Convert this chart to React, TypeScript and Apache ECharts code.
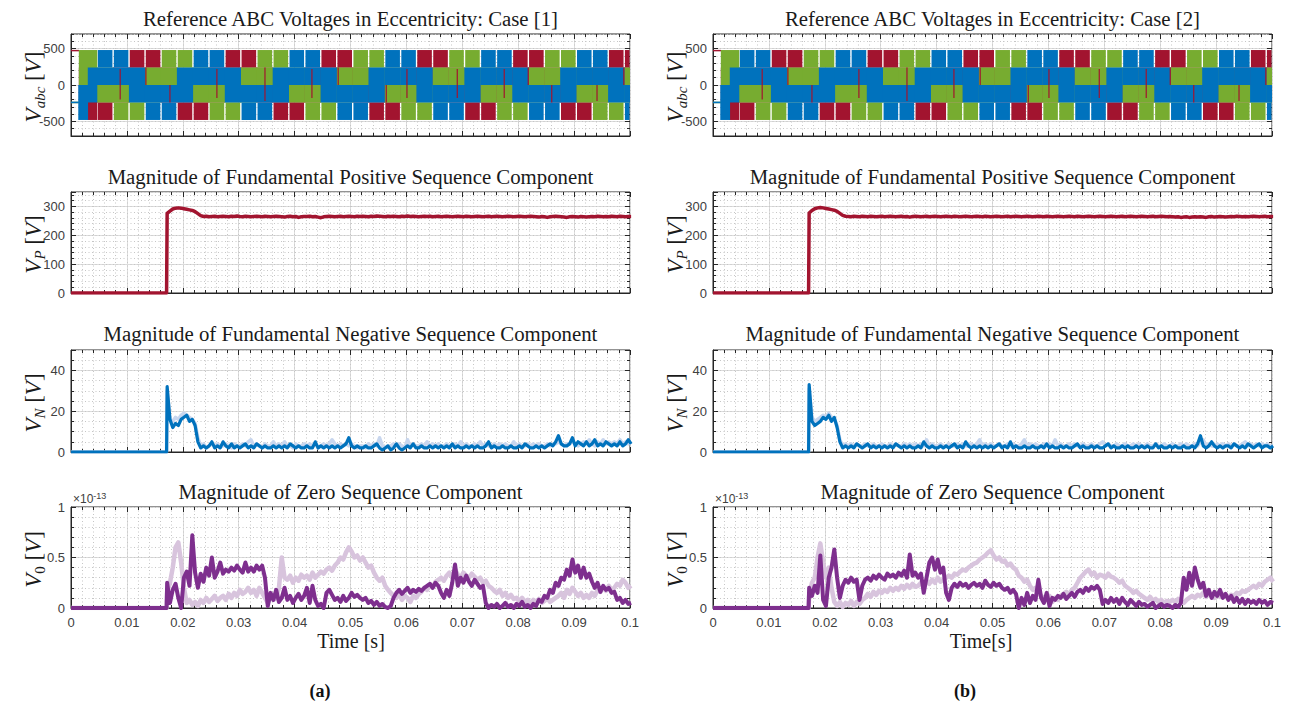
import React, { useEffect, useRef } from "react";
import * as echarts from "echarts";

// ---------------- data ----------------
// time is kept in milliseconds; axis labels are shown in seconds
const stepMs = 17.1; // instant where the estimators start
const sampleStartMs = 17.2;
const sampleStepMs = 0.5;

// Magnitude of fundamental positive sequence component [V]
const vpA = [
  276, 284, 291, 294, 295, 294, 292, 290, 288, 286,
  282, 275, 268, 265, 266, 264, 265, 266, 264, 265,
  266, 265, 264, 266, 265, 267, 265, 264, 266, 265,
  264, 265, 266, 265, 264, 266, 265, 264, 265, 266,
  265, 264, 263, 265, 266, 264, 265, 262, 264, 265,
  265, 266, 264, 265, 263, 261, 264, 265, 266, 265,
  264, 265, 266, 264, 265, 266, 265, 264, 266, 265,
  266, 265, 264, 266, 265, 267, 266, 265, 264, 266,
  265, 266, 265, 264, 266, 265, 267, 265, 266, 265,
  264, 265, 266, 265, 266, 264, 265, 266, 264, 265,
  266, 265, 264, 265, 266, 265, 264, 266, 265, 264,
  265, 266, 265, 264, 265, 266, 264, 265, 266, 265,
  264, 265, 266, 265, 264, 265, 266, 265, 264, 265,
  266, 265, 264, 263, 265, 264, 262, 264, 265, 266,
  265, 264, 263, 262, 264, 265, 264, 263, 265, 264,
  263, 264, 265, 264, 266, 265, 264, 265, 264, 266,
  265, 264, 266, 265, 264, 265, 265,
];
const vpB = [
  277, 286, 292, 295, 296, 295, 293, 291, 289, 287,
  283, 276, 269, 266, 265, 264, 266, 265, 264, 266,
  265, 264, 266, 265, 264, 265, 266, 264, 265, 266,
  265, 264, 265, 266, 264, 265, 263, 265, 266, 265,
  264, 265, 266, 264, 265, 266, 265, 264, 265, 266,
  265, 264, 266, 265, 264, 265, 266, 265, 264, 265,
  266, 265, 264, 266, 265, 264, 265, 266, 265, 264,
  265, 266, 264, 265, 266, 265, 264, 265, 266, 265,
  264, 265, 266, 265, 264, 266, 265, 264, 265, 266,
  265, 264, 265, 266, 265, 264, 266, 265, 264, 265,
  266, 265, 264, 265, 266, 265, 264, 265, 266, 265,
  264, 265, 266, 264, 265, 266, 265, 264, 265, 266,
  265, 264, 265, 266, 264, 265, 266, 265, 264, 265,
  264, 263, 264, 262, 263, 264, 262, 263, 264, 263,
  264, 263, 262, 264, 265, 263, 264, 265, 264, 263,
  264, 265, 264, 266, 265, 264, 265, 264, 265, 266,
  265, 264, 265, 266, 264, 265, 265,
];

// Magnitude of fundamental negative sequence component [V]
const vnA = [
  32, 16, 12, 14, 13, 16, 17, 18, 15, 16,
  13, 5, 2, 3, 2, 3, 5, 2, 3, 2,
  5, 3, 2, 4, 2, 3, 2, 3, 4, 2,
  3, 2, 4, 3, 2, 3, 2, 2, 3, 2,
  3, 2, 3, 2, 4, 3, 2, 3, 2, 2,
  3, 2, 2, 5, 2, 3, 2, 3, 2, 3,
  2, 3, 2, 3, 4, 7, 3, 2, 3, 2,
  2, 3, 2, 2, 3, 4, 2, 1, 2, 3,
  1, 2, 4, 2, 1, 2, 3, 2, 4, 2,
  2, 3, 2, 2, 3, 2, 3, 2, 3, 2,
  3, 2, 4, 2, 3, 2, 2, 3, 2, 3,
  2, 3, 2, 2, 3, 5, 2, 3, 2, 2,
  3, 2, 2, 3, 2, 2, 3, 2, 4, 3,
  2, 2, 3, 2, 3, 2, 3, 4, 3, 5,
  8, 4, 3, 3, 4, 7, 3, 5, 4, 3,
  5, 3, 4, 6, 3, 4, 3, 5, 4, 3,
  4, 3, 5, 3, 4, 6, 4,
];
const vnAref = [
  30, 16, 15, 17, 16, 18, 19, 18, 17, 16,
  14, 7, 3, 4, 2, 3, 4, 3, 4, 3,
  3, 4, 3, 2, 4, 3, 3, 4, 3, 5,
  6, 3, 4, 3, 2, 4, 3, 3, 5, 3,
  4, 3, 5, 3, 3, 2, 4, 3, 3, 4,
  3, 4, 3, 4, 2, 3, 4, 3, 4, 6,
  4, 3, 4, 3, 4, 3, 4, 3, 2, 3,
  3, 2, 4, 3, 4, 3, 7, 3, 2, 3,
  3, 4, 3, 4, 3, 2, 6, 3, 4, 3,
  3, 4, 3, 5, 3, 4, 3, 4, 3, 3,
  4, 3, 3, 4, 3, 5, 3, 4, 3, 3,
  4, 3, 5, 3, 4, 3, 3, 4, 3, 4,
  3, 4, 3, 3, 5, 3, 4, 3, 3, 4,
  3, 4, 3, 4, 3, 3, 4, 3, 4, 4,
  5, 4, 3, 4, 4, 5, 4, 3, 4, 5,
  4, 6, 4, 3, 5, 4, 6, 4, 5, 4,
  5, 4, 6, 4, 5, 4, 5,
];
const vnB = [
  33, 15, 13, 14, 15, 17, 16, 18, 15, 17,
  12, 5, 2, 3, 2, 3, 2, 4, 3, 2,
  3, 4, 2, 3, 2, 3, 2, 3, 2, 3,
  2, 4, 3, 2, 3, 2, 3, 2, 2, 3,
  2, 5, 3, 2, 3, 2, 2, 3, 2, 3,
  2, 3, 4, 2, 3, 2, 5, 3, 2, 3,
  2, 3, 2, 3, 2, 3, 2, 3, 4, 2,
  3, 2, 5, 2, 3, 2, 2, 3, 2, 2,
  3, 2, 2, 3, 2, 4, 2, 3, 2, 2,
  3, 2, 3, 2, 2, 3, 4, 2, 3, 2,
  2, 3, 2, 3, 2, 2, 3, 4, 2, 3,
  2, 2, 3, 2, 3, 2, 2, 3, 2, 3,
  2, 3, 2, 2, 4, 2, 3, 2, 2, 3,
  2, 3, 2, 2, 3, 2, 2, 3, 2, 4,
  8, 3, 2, 3, 5, 3, 2, 3, 2, 3,
  3, 2, 4, 3, 2, 3, 2, 4, 3, 2,
  3, 4, 2, 3, 3, 2, 3,
];
const vnBref = [
  31, 17, 15, 16, 17, 18, 17, 19, 17, 16,
  13, 6, 3, 4, 3, 4, 3, 4, 3, 3,
  4, 3, 3, 4, 3, 3, 4, 3, 3, 4,
  3, 4, 3, 3, 4, 3, 4, 3, 4, 3,
  4, 3, 6, 3, 4, 3, 3, 4, 3, 3,
  4, 3, 3, 4, 3, 4, 3, 3, 4, 3,
  4, 6, 3, 4, 3, 4, 3, 3, 4, 3,
  3, 4, 3, 4, 3, 3, 4, 6, 3, 4,
  3, 4, 3, 3, 4, 3, 4, 3, 6, 3,
  4, 3, 3, 4, 3, 4, 3, 3, 4, 3,
  3, 4, 3, 3, 4, 5, 3, 4, 3, 3,
  4, 3, 3, 4, 3, 3, 4, 3, 4, 3,
  3, 4, 3, 3, 4, 3, 3, 4, 3, 3,
  4, 3, 3, 4, 3, 4, 3, 3, 4, 3,
  5, 6, 3, 4, 3, 3, 4, 3, 4, 3,
  4, 3, 4, 3, 3, 4, 5, 3, 4, 3,
  4, 3, 4, 3, 4, 3, 3,
];

// Magnitude of zero sequence component [x1e-13 V]
const v0A = [
  .25, .05, .18, .24, .1, 0, .3, .36, .22, .72,
  .35, .2, .34, .26, .4, .32, .5, .3, .36, .45,
  .34, .38, .36, .4, .37, .42, .38, .35, .45, .36,
  .4, .36, .42, .38, .42, .3, .02, .15, .08, .18,
  .06, .1, .2, .08, .12, .05, .1, .14, .08, .12,
  .2, .05, .22, .08, .02, .04, 0, .15, .18, .13,
  .08, .1, .06, .12, .07, .1, .15, .11, .13, .1,
  .08, .1, .05, .07, .03, .06, .02, .04, .01, 0,
  .02, .1, .15, .18, .14, .17, .2, .15, .18, .16,
  .19, .17, .2, .22, .24, .2, .25, .22, .15, .1,
  .18, .12, .25, .43, .22, .3, .25, .32, .26, .22,
  .28, .24, .2, .22, .05, 0, .03, .01, .04, 0,
  .02, .05, .01, .03, 0, .04, .02, .06, .01, .03,
  0, .04, .02, .08, .06, .12, .1, .18, .15, .25,
  .22, .3, .28, .38, .32, .48, .35, .42, .3, .4,
  .3, .34, .26, .2, .25, .16, .22, .18, .2, .15,
  .16, .08, .1, .05, .08, .04, .05,
];
const v0Aref = [
  .15, .25, .4, .6, .65, .45, .2, .05, .08, .03,
  .06, .02, .08, .05, .1, .06, .09, .12, .07, .1,
  .12, .08, .14, .1, .15, .12, .18, .14, .16, .2,
  .15, .18, .12, .2, .15, .1, .05, .12, .08, .1,
  .2, .5, .3, .28, .32, .25, .3, .27, .33, .3,
  .32, .28, .35, .3, .33, .36, .34, .38, .4, .37,
  .42, .45, .5, .48, .55, .6, .56, .5, .52, .47,
  .5, .45, .4, .42, .35, .3, .27, .3, .22, .18,
  .15, .12, .1, .14, .08, .12, .1, .06, .12, .1,
  .14, .16, .2, .18, .22, .2, .26, .28, .3, .27,
  .32, .35, .3, .38, .33, .3, .35, .32, .3, .34,
  .31, .28, .3, .25, .27, .22, .2, .17, .15, .18,
  .12, .15, .1, .13, .09, .1, .07, .1, .06, .08,
  .05, .08, .06, .09, .05, .07, .1, .06, .08, .1,
  .12, .15, .1, .18, .14, .2, .16, .12, .15, .1,
  .13, .1, .15, .12, .18, .16, .2, .17, .22, .18,
  .2, .24, .22, .28, .25, .2, .22,
];
const v0B = [
  .2, .12, .22, .15, .52, .08, .02, .3, .4, .58,
  .3, .1, .22, .28, .25, .3, .26, .28, .08, .22,
  .28, .3, .27, .32, .29, .33, .3, .28, .34, .31,
  .33, .3, .35, .32, .37, .3, .53, .32, .35, .3,
  .34, .15, .3, .45, .5, .38, .48, .35, .4, .15,
  .08, .2, .24, .21, .25, .22, .24, .2, .23, .25,
  .22, .24, .2, .27, .23, .21, .25, .22, .24, .2,
  .18, .2, .15, .18, .14, 0, .1, .03, .15, .05,
  .12, .08, .28, .1, .05, .15, .02, .1, .08, .12,
  .1, .14, .09, .12, .15, .11, .16, .18, .15, .2,
  .17, .21, .19, .22, .18, .04, .08, .05, .1, .06,
  .09, .04, .1, .06, .03, .08, .05, .02, .06, .03,
  .04, .01, .03, .05, 0, .02, .04, .01, .03, .02,
  0, .03, .01, .05, .3, .18, .35, .22, .4, .28,
  .2, .25, .12, .18, .1, .16, .12, .18, .1, .14,
  .08, .12, .06, .1, .05, .09, .04, .08, .05, .07,
  .04, .08, .05, .07, .03, .06, .05,
];
const v0Bref = [
  .12, .25, .3, .5, .64, .45, .3, .4, .2, .06,
  .02, .06, .01, .05, .03, .07, .02, .06, .04, .08,
  .1, .14, .11, .16, .13, .17, .15, .18, .16, .2,
  .17, .2, .18, .22, .19, .23, .2, .24, .21, .22,
  .25, .22, .27, .24, .28, .25, .3, .26, .28, .3,
  .32, .3, .34, .33, .36, .38, .37, .4, .42, .44,
  .45, .48, .5, .52, .55, .57, .52, .48, .5, .46,
  .47, .42, .44, .4, .38, .32, .3, .26, .28, .22,
  .18, .2, .15, .12, .1, .08, .12, .06, .1, .08,
  .12, .14, .16, .13, .18, .2, .25, .3, .33, .36,
  .38, .33, .35, .3, .33, .32, .3, .34, .31, .3,
  .28, .25, .27, .22, .2, .18, .15, .17, .14, .12,
  .1, .08, .11, .07, .09, .06, .08, .05, .07, .06,
  .08, .06, .09, .07, .05, .08, .1, .12, .1, .13,
  .12, .15, .11, .14, .12, .1, .13, .11, .14, .12,
  .1, .13, .12, .15, .14, .17, .16, .18, .2, .22,
  .2, .24, .22, .26, .28, .3, .26,
];

// Reference ABC voltages: PWM envelope bands per 60-degree sector
const bandLevels = { outer: 480, inner: 240 };
const sectorEdgesMs = [
  4.65, 7.51, 10.36, 13.22, 16.08, 18.94, 21.79, 24.65, 27.51, 30.36, 33.22, 36.08,
  38.94, 41.79, 44.65, 47.51, 50.37, 53.22, 56.08, 58.94, 61.79, 64.65, 67.51, 70.37,
  73.22, 76.08, 78.94, 81.79, 84.65, 87.51, 90.37, 93.22, 96.08, 98.94, 100,
];
// P = positive band, T = transition band, N = negative band
const phaseACodes = "NTPPTNNTPPTNNTPPTNNTPPTNNTPPTNNTPP";
const phaseBCodes = "TNNTPPTNNTPPTNNTPPTNNTPPTNNTPPTNNT";
const phaseCCodes = "PPTNNTPPTNNTPPTNNTPPTNNTPPTNNTPPTN";
// start-up segments [t0, t1, low, high]
const phaseAStart = [[0, 1.4, 462, 482], [1.4, 2.9, -240, 240], [2.9, 4.65, -480, 0]];
const phaseBStart = [[0, 1.4, -250, -230], [1.4, 4.65, 0, 480]];
const phaseCStart = [[0, 1.3, -250, -228], [1.3, 3.0, -480, 0], [3.0, 4.65, -240, 240]];
// narrow phase-A pulses seen through the other phases [t, low, high]
const phaseAPulses = [
  [8.8, -200, 220], [13.4, 0, 240], [17.7, -240, 0], [26.1, -180, 220], [34.7, -220, 240],
  [43.1, -180, 220], [47.8, 0, 240], [56.4, -240, 0], [60.1, -180, 220], [69.1, -180, 220],
  [77.5, -180, 220], [81.8, 0, 240], [86.0, -240, 0], [94.1, -220, 0], [98.9, 0, 240],
];

// ---------------- style ----------------
const RED = "#A2142F";
const GREEN = "#77AC30";
const BLUE = "#0072BD";
const PURPLE = "#7E2F8E";
const LIGHT_BLUE = "#c8d6ee";
const LIGHT_PURPLE = "#d8c4dd";
const AXIS = "#262626";
const LABEL = "#404040";
const MAJOR_GRID = "#dcdcdc";
const MINOR_GRID = "#c6c6c6";
const SANS = "Liberation Sans, Arial, sans-serif";
const SERIF = "Liberation Serif, Times New Roman, serif";

const plotW = 559;
const colLefts = [71, 713];
const rows = [
  { top: 34, h: 102, min: -700, max: 700, majors: [-500, 0, 500], minor: 100 },
  { top: 192, h: 101, min: 0, max: 350, majors: [0, 100, 200, 300], minor: 20 },
  { top: 350, h: 102, min: 0, max: 50, majors: [0, 20, 40], minor: 5 },
  { top: 507, h: 101, min: 0, max: 1, majors: [0, 0.5, 1], minor: 0.1 },
];
const titles = [
  ["Reference ABC Voltages in Eccentricity: Case [1]", "Reference ABC Voltages in Eccentricity: Case [2]"],
  ["Magnitude of Fundamental Positive Sequence Component", "Magnitude of Fundamental Positive Sequence Component"],
  ["Magnitude of Fundamental Negative Sequence Component", "Magnitude of Fundamental Negative Sequence Component"],
  ["Magnitude of Zero Sequence Component", "Magnitude of Zero Sequence Component"],
];
const titleYs = [18, 176, 333, 491];
const yNames = [
  "{v|V}{s|abc}{n| [}{v|V}{n|]}",
  "{v|V}{s|P}{n| [}{v|V}{n|]}",
  "{v|V}{s|N}{n| [}{v|V}{n|]}",
  "{v|V}{u|0}{n| [}{v|V}{n|]}",
];

function lineData(values: number[]) {
  const pts: number[][] = [[0, 0], [stepMs, 0]];
  values.forEach((v, i) => pts.push([sampleStartMs + i * sampleStepMs, v]));
  return pts;
}

function phaseSegments(start: number[][], codes: string) {
  const gap = 0.15;
  const { outer, inner } = bandLevels;
  const segs: number[][] = start.map((s) => s.slice());
  for (let k = 0; k < codes.length; k++) {
    const t0 = sectorEdgesMs[k];
    const t1 = sectorEdgesMs[k + 1];
    const c = codes[k];
    if (c === "P") {
      segs.push([t0, t1, 0, inner]);
      segs.push([t0 + gap, t1 - gap, inner, outer]);
    } else if (c === "N") {
      segs.push([t0, t1, -inner, 0]);
      segs.push([t0 + gap, t1 - gap, -outer, -inner]);
    } else {
      segs.push([t0, t1, -inner, inner]);
    }
  }
  return segs;
}

function rectSeries(name: string, data: number[][], color: string, xi: number, yi: number) {
  return {
    name,
    type: "custom",
    xAxisIndex: xi,
    yAxisIndex: yi,
    silent: true,
    data,
    encode: { x: [0, 1], y: [2, 3] },
    renderItem: (params: any, api: any) => {
      const a = api.coord([api.value(0), api.value(3)]);
      const b = api.coord([api.value(1), api.value(2)]);
      const cs = params.coordSys;
      const shape = echarts.graphic.clipRectByRect(
        { x: a[0], y: a[1], width: b[0] - a[0] + 0.3, height: b[1] - a[1] },
        { x: cs.x, y: cs.y, width: cs.width, height: cs.height }
      );
      if (!shape) return null;
      return { type: "rect", shape, style: { fill: color } };
    },
  };
}

function pulseSeries(data: number[][], color: string, xi: number, yi: number) {
  return {
    type: "custom",
    xAxisIndex: xi,
    yAxisIndex: yi,
    silent: true,
    data,
    encode: { x: 0, y: [1, 2] },
    renderItem: (params: any, api: any) => {
      const a = api.coord([api.value(0), api.value(2)]);
      const b = api.coord([api.value(0), api.value(1)]);
      return { type: "rect", shape: { x: a[0] - 0.6, y: a[1], width: 1.2, height: b[1] - a[1] }, style: { fill: color } };
    },
  };
}

function lineSeries(values: number[], color: string, width: number, xi: number, yi: number) {
  return {
    type: "line",
    xAxisIndex: xi,
    yAxisIndex: yi,
    data: lineData(values),
    showSymbol: false,
    symbol: "none",
    silent: true,
    clip: true,
    lineStyle: { color, width, join: "round" },
  };
}

function buildOption() {
  const grid: any[] = [];
  const xAxis: any[] = [];
  const yAxis: any[] = [];
  const series: any[] = [];
  const graphic: any[] = [];

  const lineSets = [
    [null, { light: null, dark: vpA, c: RED }, { light: vnAref, dark: vnA, c: BLUE, lc: LIGHT_BLUE }, { light: v0Aref, dark: v0A, c: PURPLE, lc: LIGHT_PURPLE }],
    [null, { light: null, dark: vpB, c: RED }, { light: vnBref, dark: vnB, c: BLUE, lc: LIGHT_BLUE }, { light: v0Bref, dark: v0B, c: PURPLE, lc: LIGHT_PURPLE }],
  ] as any[];
  const widths = [0, 3.5, 3.2, 4];
  const lightWidths = [0, 0, 3.5, 4.5];

  colLefts.forEach((colLeft, c) => {
    rows.forEach((row, r) => {
      const g = grid.length;
      grid.push({ left: colLeft, top: row.top, width: plotW, height: row.h, show: true, borderColor: AXIS, borderWidth: 1, backgroundColor: "#ffffff" });
      const baseX = { gridIndex: g, type: "value", min: 0, max: 100 };
      const xMain = xAxis.length;
      xAxis.push({
        ...baseX, position: "bottom", interval: 10,
        axisLine: { show: true, onZero: false, lineStyle: { color: AXIS, width: 1 } },
        axisTick: { show: true, inside: true, length: 5, lineStyle: { color: AXIS } },
        axisLabel: {
          show: r === 3, margin: 8, color: LABEL, fontSize: 13, fontFamily: SANS,
          formatter: (v: number) => (v === 0 ? "0" : String(+(v / 1000).toFixed(3))),
        },
        splitLine: { show: true, lineStyle: { color: MAJOR_GRID, width: 1 } },
      });
      xAxis.push({
        ...baseX, position: "bottom", interval: 2,
        axisLine: { show: false, onZero: false }, axisLabel: { show: false },
        axisTick: { show: true, inside: true, length: 3, lineStyle: { color: AXIS } },
        splitLine: { show: true, lineStyle: { color: MINOR_GRID, width: 1, type: [1, 2.5] } },
      });
      xAxis.push({
        ...baseX, position: "top", interval: 10,
        axisLine: { show: false, onZero: false }, axisLabel: { show: false }, splitLine: { show: false },
        axisTick: { show: true, inside: true, length: 5, lineStyle: { color: AXIS } },
      });
      xAxis.push({
        ...baseX, position: "top", interval: 2,
        axisLine: { show: false, onZero: false }, axisLabel: { show: false }, splitLine: { show: false },
        axisTick: { show: true, inside: true, length: 3, lineStyle: { color: AXIS } },
      });

      const baseY = { gridIndex: g, type: "value", min: row.min, max: row.max };
      const custom = r === 0;
      const majorStep = r === 1 ? 100 : r === 2 ? 20 : 0.5;
      const majorSpec: any = custom ? {} : { interval: majorStep };
      const yMain = yAxis.length;
      yAxis.push({
        ...baseY, ...majorSpec, position: "left",
        axisLine: { show: true, onZero: false, lineStyle: { color: AXIS, width: 1 } },
        axisTick: { show: true, inside: true, length: 5, lineStyle: { color: AXIS }, ...(custom ? { customValues: row.majors } : {}) },
        axisLabel: {
          show: true, margin: 6, color: LABEL, fontSize: 13, fontFamily: SANS,
          ...(custom ? { customValues: row.majors } : {}),
          formatter: (v: number) => (row.majors.some((m) => Math.abs(m - v) < 1e-9) ? String(v) : ""),
        },
        splitLine: { show: true, lineStyle: { color: MAJOR_GRID, width: 1 } },
      });
      yAxis.push({
        ...baseY, position: "left", interval: row.minor,
        axisLine: { show: false, onZero: false }, axisLabel: { show: false },
        axisTick: { show: true, inside: true, length: 3, lineStyle: { color: AXIS } },
        splitLine: { show: true, lineStyle: { color: MINOR_GRID, width: 1, type: [1, 2.5] } },
      });
      yAxis.push({
        ...baseY, ...majorSpec, position: "right",
        axisLine: { show: false, onZero: false }, axisLabel: { show: false }, splitLine: { show: false },
        axisTick: { show: true, inside: true, length: 5, lineStyle: { color: AXIS }, ...(custom ? { customValues: row.majors } : {}) },
      });
      yAxis.push({
        ...baseY, position: "right", interval: row.minor,
        axisLine: { show: false, onZero: false }, axisLabel: { show: false }, splitLine: { show: false },
        axisTick: { show: true, inside: true, length: 3, lineStyle: { color: AXIS } },
      });

      if (r === 0) {
        series.push(rectSeries("Va", phaseSegments(phaseAStart, phaseACodes), RED, xMain, yMain));
        series.push(rectSeries("Vb", phaseSegments(phaseBStart, phaseBCodes), GREEN, xMain, yMain));
        series.push(rectSeries("Vc", phaseSegments(phaseCStart, phaseCCodes), BLUE, xMain, yMain));
        series.push(pulseSeries(phaseAPulses, RED, xMain, yMain));
      } else {
        const set = lineSets[c][r];
        if (set.light) series.push(lineSeries(set.light, set.lc, lightWidths[r], xMain, yMain));
        series.push(lineSeries(set.dark, set.c, widths[r], xMain, yMain));
      }

      const cx = colLeft + plotW / 2;
      graphic.push({
        type: "text", x: cx, y: titleYs[r], silent: true,
        style: { text: titles[r][c], fill: "#1a1a1a", font: `20.8px ${SERIF}`, align: "center", verticalAlign: "middle" },
      });
      graphic.push({
        type: "text", x: colLeft - 38, y: row.top + row.h / 2 + 2, rotation: Math.PI / 2, silent: true,
        style: {
          text: yNames[r], fill: "#1a1a1a", font: `23px ${SERIF}`, align: "center", verticalAlign: "middle",
          rich: {
            v: { fontFamily: SERIF, fontStyle: "italic", fontSize: 23, lineHeight: 28, fill: "#1a1a1a" },
            n: { fontFamily: SERIF, fontSize: 23, lineHeight: 28, fill: "#1a1a1a" },
            s: { fontFamily: SERIF, fontStyle: "italic", fontSize: 15, lineHeight: 16, verticalAlign: "bottom", fill: "#1a1a1a" },
            u: { fontFamily: SERIF, fontSize: 15, lineHeight: 16, verticalAlign: "bottom", fill: "#1a1a1a" },
          },
        },
      });
    });

    graphic.push({
      type: "text", x: colLeft + 2, y: 499, silent: true,
      style: {
        text: "{m|\u00d710}{e|-13}", fill: LABEL, font: `12px ${SANS}`, align: "left", verticalAlign: "middle",
        rich: {
          m: { fontFamily: SANS, fontSize: 12, lineHeight: 16, fill: LABEL },
          e: { fontFamily: SANS, fontSize: 9, lineHeight: 9, verticalAlign: "top", fill: LABEL },
        },
      },
    });
    graphic.push({
      type: "text", x: c === 0 ? 351 : 981, y: 641, silent: true,
      style: { text: c === 0 ? "Time [s]" : "Time[s]", fill: "#1a1a1a", font: `20px ${SERIF}`, align: "center", verticalAlign: "middle" },
    });
    graphic.push({
      type: "text", x: c === 0 ? 320 : 965, y: 691, silent: true,
      style: { text: c === 0 ? "(a)" : "(b)", fill: "#111111", font: `bold 18px ${SERIF}`, align: "center", verticalAlign: "middle" },
    });
  });

  return { animation: false, backgroundColor: "#ffffff", grid, xAxis, yAxis, series, graphic };
}

export default function App() {
  const ref = useRef<HTMLDivElement>(null);
  useEffect(() => {
    if (!ref.current) return;
    const chart = echarts.init(ref.current, undefined, { renderer: "svg" });
    chart.setOption(buildOption() as any);
    return () => chart.dispose();
  }, []);
  return <div ref={ref} style={{ position: "absolute", left: 0, top: 0, width: 1290, height: 708 }} />;
}
